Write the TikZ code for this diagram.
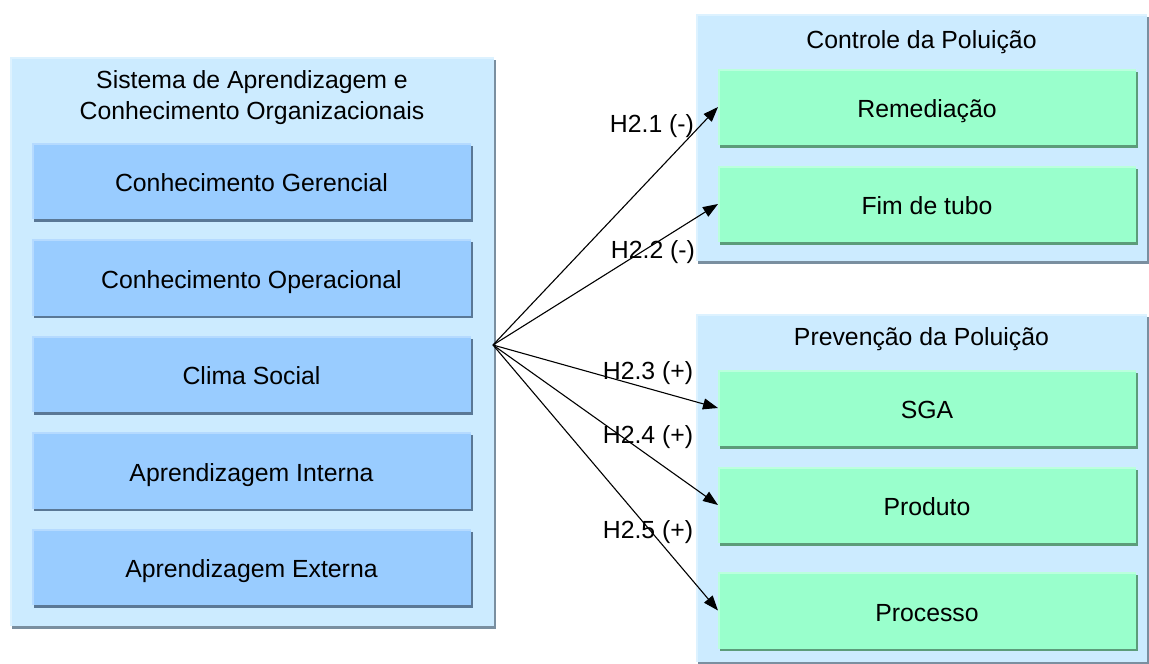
\documentclass[tikz,border=0pt]{standalone}
\usepackage{fontspec}
\setmainfont{Liberation Sans}
\usetikzlibrary{arrows.meta,shadows}

\definecolor{paneFill}{HTML}{CCEBFF}
\definecolor{paneEdge}{HTML}{DDF2FF}
\definecolor{paneShade}{HTML}{7A8FA0}
\definecolor{blueFill}{HTML}{99CCFF}
\definecolor{blueEdge}{HTML}{B5DAFF}
\definecolor{blueShade}{HTML}{5A7896}
\definecolor{greenFill}{HTML}{99FFCC}
\definecolor{greenEdge}{HTML}{BBFFDD}
\definecolor{greenShade}{HTML}{5C9C7A}

\tikzset{
  x=1pt, y=-1pt,
  every node/.style={font=\fontsize{24.8}{31}\selectfont, inner sep=0pt, outer sep=0pt},
  % raised box: light top/left rim, dark offset shade on the right and bottom
  raised/.style n args={3}{
    fill=#1, draw=none,
    drop shadow={shadow xshift=2pt, shadow yshift=-2.5pt, fill=#3, opacity=1},
    path picture={\draw[line width=3pt,#2]
      (path picture bounding box.south west) -- (path picture bounding box.north west)
      -- (path picture bounding box.north east);}
  },
  pane/.style={raised={paneFill}{paneEdge}{paneShade}},
  boxtext/.style={text height=21pt, text depth=0pt},
  bluebox/.style={raised={blueFill}{blueEdge}{blueShade}, boxtext,
    minimum width=439pt, minimum height=76pt},
  greenbox/.style={raised={greenFill}{greenEdge}{greenShade}, boxtext,
    minimum width=418pt, minimum height=76pt},
  hyp/.style={-{Triangle[length=15pt,width=11pt]}, line width=1.1pt, black},
}

\begin{document}
\begin{tikzpicture}
\useasboundingbox (0,0) rectangle (1149,664);

% left group
\node[pane, minimum width=484pt, minimum height=569pt] (sys) at (252,341.5) {};
\node[align=center] (systitle) at (252,98) {Sistema de Aprendizagem e\\Conhecimento Organizacionais};
\node[bluebox] (cg) at (251.5,181) {Conhecimento Gerencial};
\node[bluebox] (co) at (251.5,277.5) {Conhecimento Operacional};
\node[bluebox] (cs) at (251.5,374) {Clima Social};
\node[bluebox] (ai) at (251.5,470.5) {Aprendizagem Interna};
\node[bluebox] (ae) at (251.5,567) {Aprendizagem Externa};

% right groups
\node[pane, minimum width=451pt, minimum height=247pt] (ctrl) at (921.5,137.5) {};
\node (ctrltitle) at (921.5,42) {Controle da Poluição};
\node[greenbox] (rem) at (927,107) {Remediação};
\node[greenbox] (fim) at (927,204) {Fim de tubo};

\node[pane, minimum width=451pt, minimum height=348pt] (prev) at (921.5,488) {};
\node (prevtitle) at (921.5,339) {Prevenção da Poluição};
\node[greenbox] (sga) at (927,408) {SGA};
\node[greenbox] (prod) at (927,505) {Produto};
\node[greenbox] (proc) at (927,610.5) {Processo};

% hypothesis arrows
\coordinate (hub) at (493,345);
\draw[hyp] (hub) -- (rem.west);
\draw[hyp] (hub) -- (fim.west);
\draw[hyp] (hub) -- (sga.west);
\draw[hyp] (hub) -- (prod.west);
\draw[hyp] (hub) -- (proc.west);

\node (h21) at (652,126.5) {H2.1 (-)};
\node (h22) at (653,252) {H2.2 (-)};
\node (h23) at (648,373) {H2.3 (+)};
\node (h24) at (648,437) {H2.4 (+)};
\node (h25) at (648,532) {H2.5 (+)};
\end{tikzpicture}
\end{document}
